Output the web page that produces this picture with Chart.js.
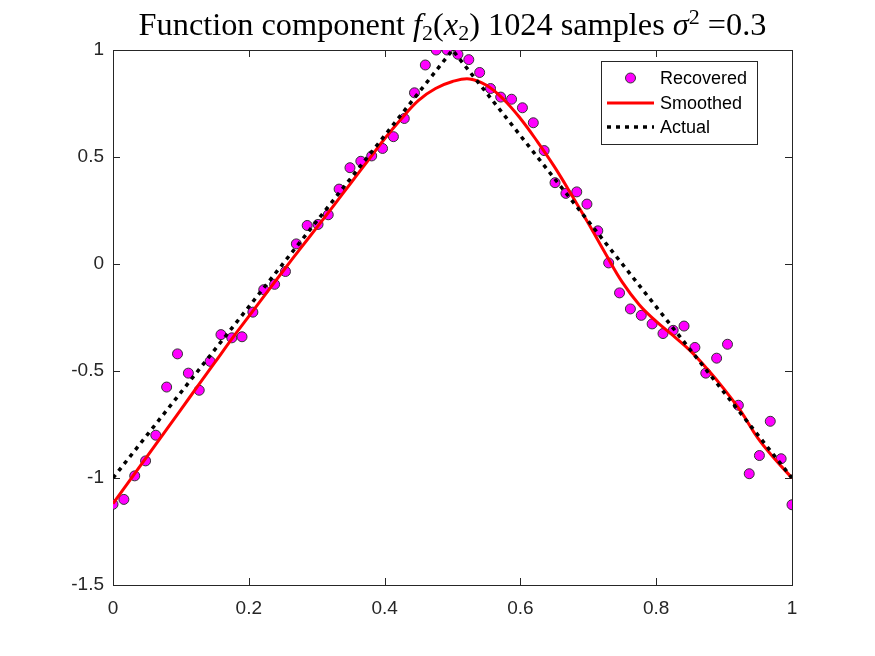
<!DOCTYPE html>
<html>
<head>
<meta charset="utf-8">
<script src="https://cdn.jsdelivr.net/npm/chart.js@4.4.1/dist/chart.umd.min.js"></script>
<style>
  html, body { margin: 0; padding: 0; background: #ffffff; }
  #wrap { width: 875px; height: 656px; }
</style>
</head>
<body>
<div id="wrap"><canvas id="chart" width="875" height="656"></canvas></div>
<script>
// tick labels
const xTicks = [0, 0.2, 0.4, 0.6, 0.8, 1];
const yTicks = [-1.5, -1, -0.5, 0, 0.5, 1];

// Recovered samples (64 points)
const recoveredX = [0, 0.016, 0.032, 0.048, 0.063, 0.079, 0.095, 0.111, 0.127, 0.143,
  0.159, 0.175, 0.190, 0.206, 0.222, 0.238, 0.254, 0.270, 0.286, 0.302,
  0.317, 0.333, 0.349, 0.365, 0.381, 0.397, 0.413, 0.429, 0.444, 0.460,
  0.476, 0.492, 0.508, 0.524, 0.540, 0.556, 0.571, 0.587, 0.603, 0.619,
  0.635, 0.651, 0.667, 0.683, 0.698, 0.714, 0.730, 0.746, 0.762, 0.778,
  0.794, 0.810, 0.825, 0.841, 0.857, 0.873, 0.889, 0.905, 0.921, 0.937,
  0.952, 0.968, 0.984, 1];
const recoveredY = [-1.123, -1.10, -0.99, -0.92, -0.80, -0.575, -0.42, -0.51, -0.59, -0.455,
  -0.33, -0.345, -0.34, -0.225, -0.12, -0.095, -0.035, 0.094, 0.18, 0.185,
  0.23, 0.35, 0.45, 0.48, 0.505, 0.54, 0.595, 0.68, 0.80, 0.93,
  1.0, 1.0, 0.98, 0.955, 0.895, 0.82, 0.78, 0.77, 0.73, 0.66,
  0.53, 0.38, 0.33, 0.337, 0.28, 0.155, 0.005, -0.135, -0.21, -0.24,
  -0.28, -0.325, -0.31, -0.29, -0.39, -0.51, -0.44, -0.375, -0.66, -0.98,
  -0.895, -0.735, -0.91, -1.125];

// Smoothed curve
const smoothX = [0, 0.025, 0.05, 0.075, 0.1, 0.125, 0.15, 0.175, 0.2, 0.225,
  0.25, 0.275, 0.3, 0.325, 0.35, 0.375, 0.4, 0.425, 0.45, 0.475,
  0.5, 0.525, 0.55, 0.575, 0.6, 0.625, 0.65, 0.675, 0.7, 0.725,
  0.75, 0.775, 0.8, 0.825, 0.85, 0.875, 0.9, 0.925, 0.95, 0.975, 1];
const smoothY = [-1.12, -1.01, -0.9, -0.79, -0.68, -0.57, -0.46, -0.35, -0.245, -0.14,
  -0.035, 0.068, 0.17, 0.273, 0.377, 0.481, 0.585, 0.68, 0.765, 0.82,
  0.853, 0.865, 0.835, 0.77, 0.68, 0.572, 0.455, 0.325, 0.19, 0.05,
  -0.085, -0.19, -0.268, -0.335, -0.405, -0.49, -0.585, -0.69, -0.815, -0.912, -1.0];

// Actual function (triangle)
const actualX = [0, 0.5, 1];
const actualY = [-1, 1, -1];

const seriesNames = ["Recovered", "Smoothed", "Actual"];

function pairs(xs, ys) {
  return xs.map(function (x, i) { return { x: x, y: ys[i] }; });
}

const axisColor = "#262626";
const sansFont = "'Liberation Sans', Arial, Helvetica, sans-serif";
const serifFont = "'Liberation Serif', 'Times New Roman', serif";

// box with inward ticks on all four sides
const boxPlugin = {
  id: "boxPlugin",
  beforeDatasetsDraw: function (chart) {
    const ctx = chart.ctx;
    const a = chart.chartArea;
    const xs = chart.scales.x, ys = chart.scales.y;
    const tl = 7;
    ctx.save();
    ctx.strokeStyle = axisColor;
    ctx.lineWidth = 1;
    ctx.beginPath();
    xTicks.forEach(function (v) {
      const px = Math.round(xs.getPixelForValue(v)) + 0.5;
      ctx.moveTo(px, a.bottom); ctx.lineTo(px, a.bottom - tl);
      ctx.moveTo(px, a.top); ctx.lineTo(px, a.top + tl);
    });
    yTicks.forEach(function (v) {
      const py = Math.round(ys.getPixelForValue(v)) + 0.5;
      ctx.moveTo(a.left, py); ctx.lineTo(a.left + tl, py);
      ctx.moveTo(a.right, py); ctx.lineTo(a.right - tl, py);
    });
    ctx.stroke();
    ctx.strokeRect(Math.round(a.left) + 0.5, Math.round(a.top) + 0.5,
      Math.round(a.right - a.left), Math.round(a.bottom - a.top));
    ctx.restore();
  }
};

// legend box in the upper right corner
const legendPlugin = {
  id: "legendPlugin",
  afterDatasetsDraw: function (chart) {
    const ctx = chart.ctx;
    const bx = 601.5, by = 61.5, bw = 156, bh = 83;
    const rows = [78, 103, 127];
    ctx.save();
    ctx.fillStyle = "#ffffff";
    ctx.fillRect(bx, by, bw, bh);
    ctx.strokeStyle = axisColor;
    ctx.lineWidth = 1;
    ctx.strokeRect(bx, by, bw, bh);

    const ds = chart.data.datasets;
    // Recovered marker
    ctx.beginPath();
    ctx.arc(630.5, rows[0], ds[0].pointRadius, 0, Math.PI * 2);
    ctx.fillStyle = ds[0].backgroundColor;
    ctx.fill();
    ctx.lineWidth = ds[0].borderWidth;
    ctx.strokeStyle = ds[0].borderColor;
    ctx.stroke();
    // Smoothed line
    ctx.beginPath();
    ctx.moveTo(607, rows[1]); ctx.lineTo(654, rows[1]);
    ctx.lineWidth = ds[1].borderWidth;
    ctx.strokeStyle = ds[1].borderColor;
    ctx.stroke();
    // Actual dotted line
    ctx.beginPath();
    ctx.setLineDash(ds[2].borderDash);
    ctx.moveTo(607, rows[2]); ctx.lineTo(654, rows[2]);
    ctx.lineWidth = ds[2].borderWidth;
    ctx.strokeStyle = ds[2].borderColor;
    ctx.stroke();
    ctx.setLineDash([]);

    ctx.fillStyle = "#000000";
    ctx.font = "18px " + sansFont;
    ctx.textAlign = "left";
    ctx.textBaseline = "middle";
    seriesNames.forEach(function (name, i) {
      ctx.fillText(name, 660, rows[i] + 1);
    });
    ctx.restore();
  }
};

// title with math parts (italic symbols, sub/superscripts)
const titlePlugin = {
  id: "titlePlugin",
  afterDraw: function (chart) {
    const ctx = chart.ctx;
    const size = 32.3;
    const small = 22;
    const parts = [
      { t: "Function component ", f: size + "px " + serifFont, dy: 0 },
      { t: "f", f: "italic " + size + "px " + serifFont, dy: 0 },
      { t: "2", f: small + "px " + serifFont, dy: 5 },
      { t: "(", f: size + "px " + serifFont, dy: 0 },
      { t: "x", f: "italic " + size + "px " + serifFont, dy: 0 },
      { t: "2", f: small + "px " + serifFont, dy: 5 },
      { t: ") 1024 samples ", f: size + "px " + serifFont, dy: 0 },
      { t: "σ", f: "italic " + size + "px " + serifFont, dy: 0 },
      { t: "2", f: small + "px " + serifFont, dy: -11 },
      { t: " =0.3", f: size + "px " + serifFont, dy: 0 }
    ];
    ctx.save();
    let total = 0;
    parts.forEach(function (p) {
      ctx.font = p.f;
      p.w = ctx.measureText(p.t).width;
      total += p.w;
    });
    const a = chart.chartArea;
    let x = (a.left + a.right) / 2 - total / 2;
    const base = 35;
    ctx.fillStyle = "#000000";
    ctx.textAlign = "left";
    ctx.textBaseline = "alphabetic";
    parts.forEach(function (p) {
      ctx.font = p.f;
      ctx.fillText(p.t, x, base + p.dy);
      x += p.w;
    });
    ctx.restore();
  }
};

Chart.defaults.font.family = sansFont;
Chart.defaults.color = axisColor;

const chart = new Chart(document.getElementById("chart"), {
  type: "scatter",
  data: {
    datasets: [
      {
        label: seriesNames[0],
        data: pairs(recoveredX, recoveredY),
        showLine: false,
        pointRadius: 5,
        pointHoverRadius: 5,
        backgroundColor: "#ff00ff",
        borderColor: "#333333",
        borderWidth: 1,
        order: 3
      },
      {
        label: seriesNames[1],
        data: pairs(smoothX, smoothY),
        showLine: true,
        pointRadius: 0,
        borderColor: "#ff0000",
        backgroundColor: "#ff0000",
        borderWidth: 3,
        tension: 0.4,
        fill: false,
        order: 2
      },
      {
        label: seriesNames[2],
        data: pairs(actualX, actualY),
        showLine: true,
        pointRadius: 0,
        borderColor: "#000000",
        backgroundColor: "#000000",
        borderWidth: 3.5,
        borderDash: [4, 5],
        borderCapStyle: "butt",
        tension: 0,
        fill: false,
        order: 1
      }
    ]
  },
  options: {
    responsive: false,
    animation: false,
    devicePixelRatio: 1,
    layout: { padding: { top: 50, right: 83, left: 0, bottom: 0 } },
    plugins: {
      legend: { display: false },
      title: { display: false },
      tooltip: { enabled: false }
    },
    scales: {
      x: {
        type: "linear",
        min: 0,
        max: 1,
        grid: { display: false, drawTicks: false },
        border: { display: false },
        afterBuildTicks: function (scale) {
          scale.ticks = xTicks.map(function (v) { return { value: v }; });
        },
        afterFit: function (scale) { scale.height = 71; },
        ticks: {
          padding: 12,
          maxRotation: 0,
          color: axisColor,
          font: { size: 19 },
          callback: function (v) { return String(v); }
        }
      },
      y: {
        type: "linear",
        min: -1.5,
        max: 1,
        grid: { display: false, drawTicks: false },
        border: { display: false },
        afterBuildTicks: function (scale) {
          scale.ticks = yTicks.map(function (v) { return { value: v }; });
        },
        afterFit: function (scale) { scale.width = 113; },
        ticks: {
          padding: 9,
          color: axisColor,
          font: { size: 19 },
          callback: function (v) { return String(v); }
        }
      }
    }
  },
  plugins: [boxPlugin, legendPlugin, titlePlugin]
});
</script>
</body>
</html>
